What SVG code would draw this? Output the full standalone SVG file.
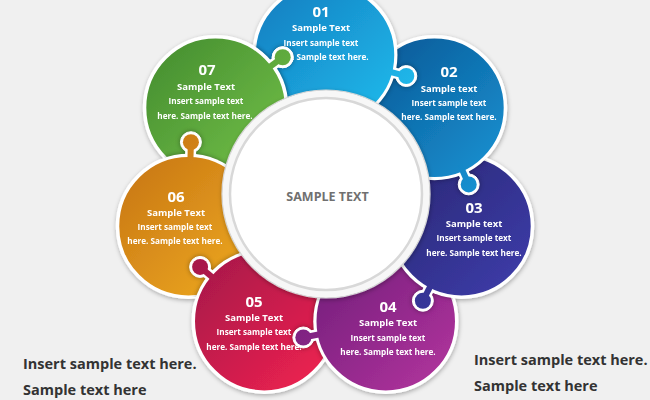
<svg xmlns="http://www.w3.org/2000/svg" xmlns:xlink="http://www.w3.org/1999/xlink" width="650" height="400" viewBox="0 0 650 400">
<style>
.t{font-family:"Open Sans","Liberation Sans",Arial,sans-serif;font-weight:700;fill:#fff;text-anchor:middle}
.n{font-size:15px}
.h{font-size:9.5px}
.s{font-size:8.2px}
.foot{font-family:"Open Sans","Liberation Sans",Arial,sans-serif;font-weight:700;font-size:14.5px;fill:#333}
.petal{stroke:#fff;stroke-width:3.5}
.halo{opacity:.35}
</style>
<defs>
<filter id="sh" x="-20%" y="-20%" width="140%" height="140%"><feDropShadow dx="0.5" dy="1.5" stdDeviation="2" flood-color="#000" flood-opacity=".3"/></filter>
<filter id="bl" x="-20%" y="-20%" width="140%" height="140%"><feGaussianBlur stdDeviation="2.5"/></filter>
<linearGradient id="g1" gradientUnits="userSpaceOnUse" x1="265" y1="-5" x2="385" y2="115"><stop offset="0" stop-color="#1480c2"/><stop offset="1" stop-color="#1fb8ea"/></linearGradient>
<linearGradient id="g2" gradientUnits="userSpaceOnUse" x1="374" y1="48" x2="494" y2="168"><stop offset="0" stop-color="#0b5a98"/><stop offset="1" stop-color="#168fcf"/></linearGradient>
<linearGradient id="g3" gradientUnits="userSpaceOnUse" x1="401" y1="166" x2="521" y2="286"><stop offset="0" stop-color="#2a2877"/><stop offset="1" stop-color="#3d3ca8"/></linearGradient>
<linearGradient id="g4" gradientUnits="userSpaceOnUse" x1="326" y1="261" x2="446" y2="381"><stop offset="0" stop-color="#741f7c"/><stop offset="1" stop-color="#b0339c"/></linearGradient>
<linearGradient id="g5" gradientUnits="userSpaceOnUse" x1="204" y1="261" x2="324" y2="381"><stop offset="0" stop-color="#a8184a"/><stop offset="1" stop-color="#ee2250"/></linearGradient>
<linearGradient id="g6" gradientUnits="userSpaceOnUse" x1="128" y1="166" x2="248" y2="286"><stop offset="0" stop-color="#c97814"/><stop offset="1" stop-color="#eda822"/></linearGradient>
<linearGradient id="g7" gradientUnits="userSpaceOnUse" x1="155" y1="48" x2="275" y2="168"><stop offset="0" stop-color="#468f30"/><stop offset="1" stop-color="#72bf48"/></linearGradient>
<clipPath id="c1"><circle cx="325" cy="55" r="71"/></clipPath>
<clipPath id="c2"><circle cx="434.45" cy="107.71" r="71"/></clipPath>
<clipPath id="c3"><circle cx="461.49" cy="226.15" r="71"/></clipPath>
<clipPath id="c4"><circle cx="385.74" cy="321.14" r="71"/></clipPath>
<clipPath id="c5"><circle cx="264.26" cy="321.14" r="71"/></clipPath>
<clipPath id="c6"><circle cx="188.51" cy="226.15" r="71"/></clipPath>
<clipPath id="c7"><circle cx="215.55" cy="107.71" r="71"/></clipPath>
<g id="ko1"><circle cx="406.32" cy="76.03" r="10.5"/><line x1="392.77" y1="72.53" x2="406.32" y2="76.03" stroke-width="11"/></g>
<g id="ko2"><circle cx="468.71" cy="184.41" r="10.5"/><line x1="463.00" y1="171.63" x2="468.71" y2="184.41" stroke-width="11"/></g>
<g id="ko3"><circle cx="422.88" cy="300.75" r="10.5"/><line x1="429.32" y1="288.32" x2="422.88" y2="300.75" stroke-width="11"/></g>
<g id="ko4"><circle cx="303.34" cy="337.48" r="10.5"/><line x1="317.08" y1="334.76" x2="303.34" y2="337.48" stroke-width="11"/></g>
<g id="ko5"><circle cx="200.10" cy="266.92" r="10.5"/><line x1="210.79" y1="275.95" x2="200.10" y2="266.92" stroke-width="11"/></g>
<g id="ko6"><circle cx="190.92" cy="142.18" r="10.5"/><line x1="190.52" y1="156.18" x2="190.92" y2="142.18" stroke-width="11"/></g>
<g id="ko7"><circle cx="282.70" cy="57.24" r="10.5"/><line x1="271.51" y1="65.65" x2="282.70" y2="57.24" stroke-width="11"/></g>
<mask id="m1" maskUnits="userSpaceOnUse" x="0" y="0" width="650" height="400"><rect width="650" height="400" fill="#fff"/><circle cx="215.55" cy="107.71" r="72.5" fill="#000"/><use href="#ko7" fill="#000" stroke="#000"/></mask>
<mask id="m2" maskUnits="userSpaceOnUse" x="0" y="0" width="650" height="400"><rect width="650" height="400" fill="#fff"/><circle cx="325" cy="55" r="72.5" fill="#000"/><use href="#ko1" fill="#000" stroke="#000"/></mask>
<mask id="m3" maskUnits="userSpaceOnUse" x="0" y="0" width="650" height="400"><rect width="650" height="400" fill="#fff"/><circle cx="434.45" cy="107.71" r="72.5" fill="#000"/><use href="#ko2" fill="#000" stroke="#000"/></mask>
<mask id="m4" maskUnits="userSpaceOnUse" x="0" y="0" width="650" height="400"><rect width="650" height="400" fill="#fff"/><circle cx="461.49" cy="226.15" r="72.5" fill="#000"/><use href="#ko3" fill="#000" stroke="#000"/></mask>
<mask id="m5" maskUnits="userSpaceOnUse" x="0" y="0" width="650" height="400"><rect width="650" height="400" fill="#fff"/><circle cx="385.74" cy="321.14" r="72.5" fill="#000"/><use href="#ko4" fill="#000" stroke="#000"/></mask>
<mask id="m6" maskUnits="userSpaceOnUse" x="0" y="0" width="650" height="400"><rect width="650" height="400" fill="#fff"/><circle cx="264.26" cy="321.14" r="72.5" fill="#000"/><use href="#ko5" fill="#000" stroke="#000"/></mask>
<mask id="m7" maskUnits="userSpaceOnUse" x="0" y="0" width="650" height="400"><rect width="650" height="400" fill="#fff"/><circle cx="188.51" cy="226.15" r="72.5" fill="#000"/><use href="#ko6" fill="#000" stroke="#000"/></mask>
</defs>
<rect width="650" height="400" fill="#f0f0f0"/>

<g id="node-01">
 <g mask="url(#m1)">
  <circle class="petal" cx="325" cy="55" r="71" fill="url(#g1)" filter="url(#sh)"/>
  <g clip-path="url(#c1)"><g class="halo" filter="url(#bl)"><circle cx="215.55" cy="107.71" r="72.5"/><use href="#ko7" stroke="#000"/></g></g>
  <text class="t n" x="321" y="17.3">01</text>
  <text class="t h" x="321" y="31.4">Sample Text</text>
  <text class="t s" x="321" y="46">Insert sample text</text>
  <text class="t s" x="321" y="60">here. Sample text here.</text>
 </g>
 <use href="#ko1" fill="#fff" stroke="#fff"/>
 <line x1="385.02" y1="70.52" x2="406.32" y2="76.03" stroke="url(#g1)" stroke-width="6"/>
 <circle cx="406.32" cy="76.03" r="8" fill="url(#g1)"/>
</g>

<g id="node-02">
 <g mask="url(#m2)">
  <circle class="petal" cx="434.45" cy="107.71" r="71" fill="url(#g2)" filter="url(#sh)"/>
  <g clip-path="url(#c2)"><g class="halo" filter="url(#bl)"><circle cx="325" cy="55" r="72.5"/><use href="#ko1" stroke="#000"/></g></g>
  <text class="t n" x="449" y="77">02</text>
  <text class="t h" x="449" y="91.7">Sample text</text>
  <text class="t s" x="449" y="105.7">Insert sample text</text>
  <text class="t s" x="449" y="120.3">here. Sample text here.</text>
 </g>
 <use href="#ko2" fill="#fff" stroke="#fff"/>
 <line x1="459.73" y1="164.32" x2="468.71" y2="184.41" stroke="url(#g2)" stroke-width="6"/>
 <circle cx="468.71" cy="184.41" r="8" fill="url(#g2)"/>
</g>

<g id="node-03">
 <g mask="url(#m3)">
  <circle class="petal" cx="461.49" cy="226.15" r="71" fill="url(#g3)" filter="url(#sh)"/>
  <g clip-path="url(#c3)"><g class="halo" filter="url(#bl)"><circle cx="434.45" cy="107.71" r="72.5"/><use href="#ko2" stroke="#000"/></g></g>
  <text class="t n" x="474" y="213.3">03</text>
  <text class="t h" x="474" y="227.4">Sample text</text>
  <text class="t s" x="474" y="241">Insert sample text</text>
  <text class="t s" x="474" y="256">here. Sample text here.</text>
 </g>
 <use href="#ko3" fill="#fff" stroke="#fff"/>
 <line x1="432.99" y1="281.21" x2="422.88" y2="300.75" stroke="url(#g3)" stroke-width="6"/>
 <circle cx="422.88" cy="300.75" r="8" fill="url(#g3)"/>
</g>

<g id="node-04">
 <g mask="url(#m4)">
  <circle class="petal" cx="385.74" cy="321.14" r="71" fill="url(#g4)" filter="url(#sh)"/>
  <g clip-path="url(#c4)"><g class="halo" filter="url(#bl)"><circle cx="461.49" cy="226.15" r="72.5"/><use href="#ko3" stroke="#000"/></g></g>
  <text class="t n" x="388" y="312.3">04</text>
  <text class="t h" x="388" y="326.4">Sample Text</text>
  <text class="t s" x="388" y="341">Insert sample text</text>
  <text class="t s" x="388" y="355">here. Sample text here.</text>
 </g>
 <use href="#ko4" fill="#fff" stroke="#fff"/>
 <line x1="324.92" y1="333.20" x2="303.34" y2="337.48" stroke="url(#g4)" stroke-width="6"/>
 <circle cx="303.34" cy="337.48" r="8" fill="url(#g4)"/>
</g>

<g id="node-05">
 <g mask="url(#m5)">
  <circle class="petal" cx="264.26" cy="321.14" r="71" fill="url(#g5)" filter="url(#sh)"/>
  <g clip-path="url(#c5)"><g class="halo" filter="url(#bl)"><circle cx="385.74" cy="321.14" r="72.5"/><use href="#ko4" stroke="#000"/></g></g>
  <text class="t n" x="254" y="307.3">05</text>
  <text class="t h" x="254" y="321.4">Sample Text</text>
  <text class="t s" x="254" y="335">Insert sample text</text>
  <text class="t s" x="254" y="350">here. Sample text here.</text>
 </g>
 <use href="#ko5" fill="#fff" stroke="#fff"/>
 <line x1="216.90" y1="281.12" x2="200.10" y2="266.92" stroke="url(#g5)" stroke-width="6"/>
 <circle cx="200.10" cy="266.92" r="8" fill="url(#g5)"/>
</g>

<g id="node-06">
 <g mask="url(#m6)">
  <circle class="petal" cx="188.51" cy="226.15" r="71" fill="url(#g6)" filter="url(#sh)"/>
  <g clip-path="url(#c6)"><g class="halo" filter="url(#bl)"><circle cx="264.26" cy="321.14" r="72.5"/><use href="#ko5" stroke="#000"/></g></g>
  <text class="t n" x="176" y="202.3">06</text>
  <text class="t h" x="176" y="216.4">Sample Text</text>
  <text class="t s" x="175" y="230">Insert sample text</text>
  <text class="t s" x="175" y="244">here. Sample text here.</text>
 </g>
 <use href="#ko6" fill="#fff" stroke="#fff"/>
 <line x1="190.29" y1="164.17" x2="190.92" y2="142.18" stroke="url(#g6)" stroke-width="6"/>
 <circle cx="190.92" cy="142.18" r="8" fill="url(#g6)"/>
</g>

<g id="node-07">
 <g mask="url(#m7)">
  <circle class="petal" cx="215.55" cy="107.71" r="71" fill="url(#g7)" filter="url(#sh)"/>
  <g clip-path="url(#c7)"><g class="halo" filter="url(#bl)"><circle cx="188.51" cy="226.15" r="72.5"/><use href="#ko6" stroke="#000"/></g></g>
  <text class="t n" x="207" y="75.3">07</text>
  <text class="t h" x="206" y="90.4">Sample Text</text>
  <text class="t s" x="206" y="104">Insert sample text</text>
  <text class="t s" x="205" y="119">here. Sample text here.</text>
 </g>
 <use href="#ko7" fill="#fff" stroke="#fff"/>
 <line x1="265.11" y1="70.46" x2="282.70" y2="57.24" stroke="url(#g7)" stroke-width="6"/>
 <circle cx="282.70" cy="57.24" r="8" fill="url(#g7)"/>
</g>

<g id="connectors"></g>

<g id="center">
 <circle cx="326" cy="194" r="104" fill="#f7f7f7" stroke="#d6d6d6" stroke-width="1.2" filter="url(#sh)"/>
 <circle cx="326" cy="194" r="96" fill="#fff" stroke="#d8d8d8" stroke-width="2.5"/>
 <text x="327.5" y="200.5" font-family="'Open Sans','Liberation Sans',Arial,sans-serif" font-weight="700" font-size="12.5" fill="#707070" text-anchor="middle">SAMPLE TEXT</text>
</g>

<g id="notes">
 <text class="foot" x="23" y="369">Insert sample text here.</text>
 <text class="foot" x="23" y="394.5">Sample text here</text>
 <text class="foot" x="474" y="365">Insert sample text here.</text>
 <text class="foot" x="474" y="390.5">Sample text here</text>
</g>
</svg>
